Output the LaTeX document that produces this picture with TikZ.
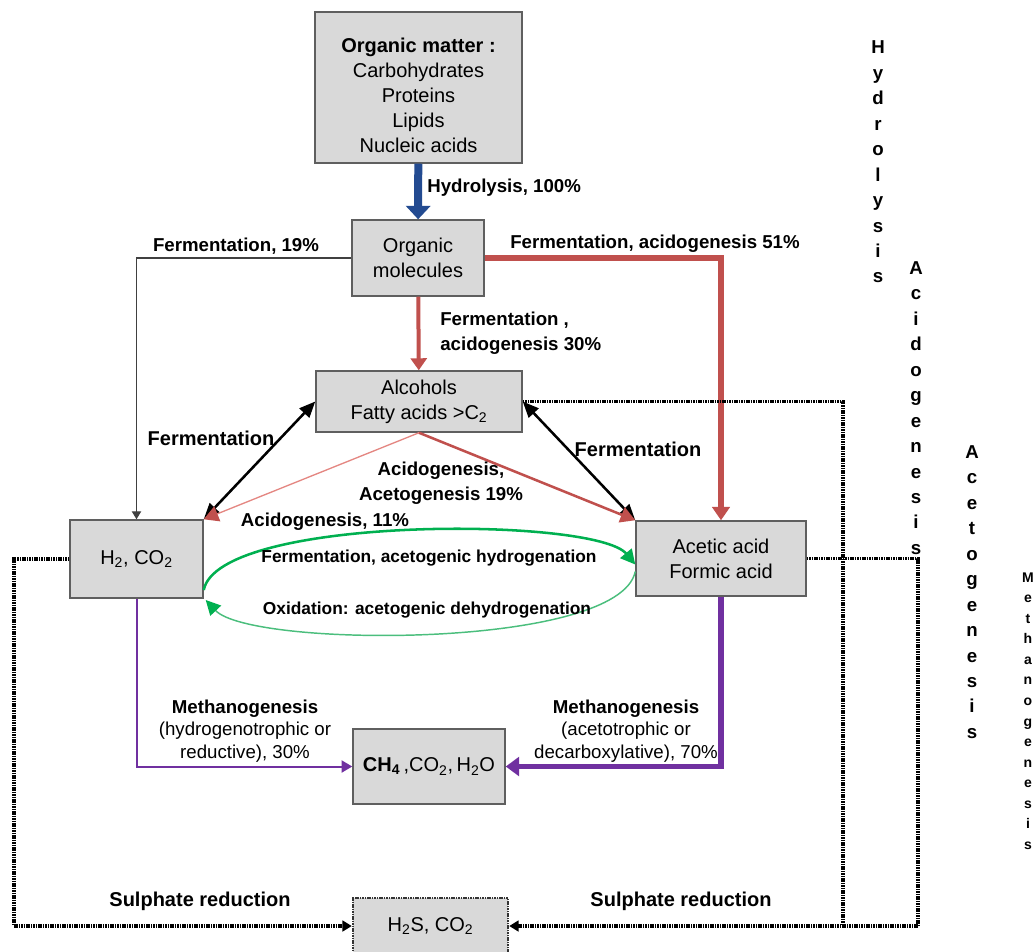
\documentclass[tikz,border=0pt]{standalone}
\usepackage{fontspec}
\setmainfont{Liberation Sans}
\usetikzlibrary{arrows.meta,calc}

\definecolor{boxfill}{RGB}{217,217,217}
\definecolor{boxline}{RGB}{95,95,95}
\definecolor{hydroblue}{RGB}{35,75,145}
\definecolor{acidred}{RGB}{192,80,77}
\definecolor{paleacidred}{RGB}{228,135,130}
\definecolor{acetogreen}{RGB}{0,176,80}
\definecolor{paleacetogreen}{RGB}{75,190,125}
\definecolor{methpurple}{RGB}{112,48,160}

\tikzset{every picture/.style={line width=0.5pt}}
\tikzset{
  box/.style 2 args={draw=boxline, fill=boxfill, line width=1.1pt, inner sep=0pt, align=center,
    minimum width=#1*0.75pt, minimum height=#2*0.75pt, font=\fontsize{15}{18.75}\selectfont},
  lbl/.style={font=\bfseries\fontsize{14}{18.75}\selectfont, align=center, inner sep=0pt},
  biglbl/.style={font=\bfseries\fontsize{15}{18.75}\selectfont, inner sep=0pt},
  greenlbl/.style={font=\bfseries\fontsize{13}{16}\selectfont, inner sep=0pt},
  methlbl/.style={font=\fontsize{14}{16.9}\selectfont, align=center, inner sep=0pt},
  phase/.style={font=\bfseries\fontsize{14}{19.1}\selectfont, align=center, inner sep=0pt},
  smallphase/.style={font=\bfseries\fontsize{10.5}{15.4}\selectfont, align=center, inner sep=0pt},
  hydro/.style={draw=hydroblue, line width=6pt, -{Triangle[width=18pt,length=10pt]}},
  acidthick/.style={draw=acidred, line width=3.8pt, -{Triangle[width=13pt,length=10pt]}},
  acidmid/.style={draw=acidred, line width=3pt, -{Triangle[width=12pt,length=9pt]}},
  acidthin/.style={draw=acidred, line width=1.9pt, -{Triangle[width=12pt,length=11pt]}},
  acidpale/.style={draw=paleacidred, line width=1pt, -{Triangle[width=12pt,length=11pt,color=acidred]}},
  ferment/.style={draw=black, line width=1.9pt, {Triangle[width=10pt,length=12pt]}-{Triangle[width=10pt,length=12pt]}},
  fermthin/.style={draw=black!75, line width=1pt, -{Triangle[width=7pt,length=6pt]}},
  greenfwd/.style={draw=acetogreen, line width=1.9pt, -{Triangle[width=11pt,length=11pt]}},
  greenback/.style={draw=paleacetogreen, line width=1.1pt, -{Triangle[width=11pt,length=11pt,color=acetogreen]}},
  meththin/.style={draw=methpurple, line width=1.5pt, -{Triangle[width=9pt,length=8pt]}},
  meththick/.style={draw=methpurple, line width=3.8pt, -{Triangle[width=14pt,length=10pt]}},
  sulph/.style={draw=black, line width=2.4pt, dash pattern=on 1.2pt off 0.6pt},
  sulpharrow/.style={sulph, -{Triangle[width=8pt,length=7pt]}}
}

\begin{document}
\begin{tikzpicture}[x=0.75pt,y=0.75pt,yscale=-1,xscale=1]
\path[use as bounding box] (0,0) rectangle (1035,951);

%Shape: Rectangle [organic matter]
\node [box={207}{151}] (matter) at (418.5,87.5) {\rule{0pt}{22pt}\textbf{Organic matter :}\\Carbohydrates\\Proteins\\Lipids\\Nucleic acids};
%Shape: Rectangle [organic molecules]
\node [box={132}{76}] (molecules) at (418,258) {Organic\\molecules};
%Shape: Rectangle [alcohols]
\node [box={206}{61}] (alcohols) at (419,401.5) {Alcohols\\Fatty acids >C\textsubscript{2}};
%Shape: Rectangle [H2 CO2]
\node [box={133}{78}] (h2) at (136.5,559) {H\textsubscript{2}, CO\textsubscript{2}};
%Shape: Rectangle [acetic]
\node [box={170}{75}] (acetic) at (721,558.5) {Acetic acid\\Formic acid};
%Shape: Rectangle [CH4]
\node [box={152}{75}] (ch4) at (429,766.5) {\textbf{CH\textsubscript{4}}\,,CO\textsubscript{2},\,H\textsubscript{2}O};
%Shape: Rectangle [H2S]
\node [box={155}{56}, sulph, draw=boxline!55!black, line width=1.8pt] (h2s) at (430.5,926) {H\textsubscript{2}S, CO\textsubscript{2}};

%Straight Lines [hydrolysis]
\draw [hydro] (matter) -- (molecules);
%Straight Lines [fermentation 19]
\draw [fermthin] (molecules.west) -| (h2.north);
%Straight Lines [acidogenesis 51]
\draw [acidthick] (molecules.east) -| (acetic.north);
%Straight Lines [acidogenesis 30]
\draw [acidmid] (molecules) -- (alcohols);
%Straight Lines [fermentation, both ways]
\draw [ferment] (h2.north east) -- (alcohols.west);
\draw [ferment] (acetic.north west) -- (alcohols.east);
%Straight Lines [acidogenesis 11, 19]
\draw [acidpale] (alcohols.south) -- (h2.north east);
\draw [acidthin] (alcohols.south) -- (acetic.north west);

%Curve Lines [acetogenic loop]
\draw [greenfwd] ($(h2.east)+(0,31)$) .. controls +(15,-75) and +(-40,-48) .. ($(acetic.west)+(0,6)$);
\draw [greenback] ($(acetic.west)+(0,13)$) .. controls +(-16,78) and +(45,48) .. ($(h2.east)+(2,41)$);

%Straight Lines [methanogenesis]
\draw [meththin] (h2.south) |- (ch4.west);
\draw [meththick] (acetic.south) |- (ch4.east);

%Straight Lines [sulphate reduction]
\coordinate (cornerL) at (14,926);
\coordinate (cornerM) at (843,926);
\coordinate (cornerR) at (918,926);
\draw [sulph] (h2.west) -| (cornerL);
\draw [sulpharrow] (cornerL) -- (h2s.west);
\draw [sulph] (alcohols.east) -| (cornerM);
\draw [sulph] (acetic.east) -| (cornerR);
\draw [sulpharrow] (cornerR) -- (h2s.east);

% Text Node
\node [lbl, anchor=west] (thydro) at (427,188) {Hydrolysis, 100\%};
% Text Node
\node [lbl] (tferm19) at (236,246) {Fermentation, 19\%};
% Text Node
\node [lbl] (tacid51) at (655,244) {Fermentation, acidogenesis 51\%};
% Text Node
\node [lbl, anchor=west, align=left] (tacid30) at (440,333) {Fermentation ,\\acidogenesis 30\%};
% Text Node
\node [biglbl] (tfermL) at (211,438) {Fermentation};
% Text Node
\node [biglbl] (tfermR) at (638,449) {Fermentation};
% Text Node
\node [lbl] (tacid19) at (441,483) {Acidogenesis,\\Acetogenesis 19\%};
% Text Node
\node [lbl] (tacid11) at (325,522) {Acidogenesis, 11\%};
% Text Node
\node [greenlbl] (thydrog) at (429,558) {Fermentation, acetogenic hydrogenation};
% Text Node
\node [greenlbl] (tdehydrog) at (427,610) {Oxidation: acetogenic dehydrogenation};
% Text Node
\node [methlbl] (tmethL) at (245,731) {\textbf{Methanogenesis}\\(hydrogenotrophic or\\reductive), 30\%};
% Text Node
\node [methlbl] (tmethR) at (626,731) {\textbf{Methanogenesis}\\(acetotrophic or\\decarboxylative), 70\%};
% Text Node
\node [biglbl] (tsulphL) at (200,901) {Sulphate reduction};
% Text Node
\node [biglbl] (tsulphR) at (681,901) {Sulphate reduction};

% Text Node [phases]
\node [phase] (phhydro) at (878,162) {H\\y\\d\\r\\o\\l\\y\\s\\i\\s};
\node [phase] (phacido) at (916,408) {A\\c\\i\\d\\o\\g\\e\\n\\e\\s\\i\\s};
\node [phase] (phaceto) at (972,592) {A\\c\\e\\t\\o\\g\\e\\n\\e\\s\\i\\s};
\node [smallphase] (phmetha) at (1028,711) {M\\e\\t\\h\\a\\n\\o\\g\\e\\n\\e\\s\\i\\s};

\end{tikzpicture}
\end{document}
